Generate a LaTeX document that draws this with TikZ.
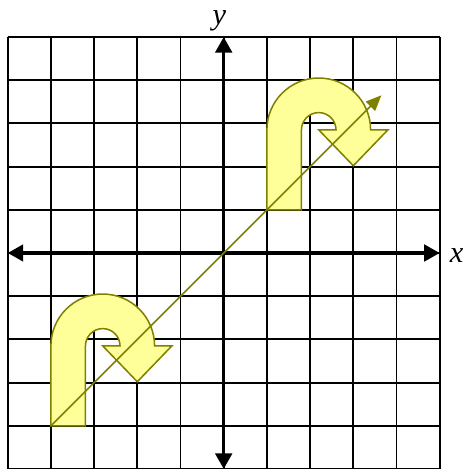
\documentclass[tikz,border=0pt]{standalone}
\usepackage{fontspec}
\setmainfont{Liberation Serif}
\usetikzlibrary{arrows.meta}
\definecolor{olivec}{RGB}{128,128,0}
\definecolor{uyellow}{RGB}{255,255,153}
\tikzset{
  gridline/.style={line width=1.3pt,black},
  axisline/.style={line width=2.3pt,black,{Triangle[length=0.36cm,width=0.38cm]}-{Triangle[length=0.36cm,width=0.38cm]}},
  diagline/.style={line width=1pt,olivec,-{Triangle[length=0.36cm,width=0.3cm]}},
  uturn/.style={line width=1pt,draw=olivec,fill=uyellow,line join=miter},
  axlabel/.style={font=\itshape\fontsize{20}{24}\selectfont,inner sep=0pt,anchor=base}
}
\newcommand{\uturnpath}[2]{%
  \path[uturn] (#1,#2) -- ++(0,1.85) arc[start angle=180,end angle=0,radius=1.2]
    -- ++(0.4,0) -- ++(-0.8,-0.83) -- ++(-0.8,0.83) -- ++(0.4,0)
    arc[start angle=0,end angle=180,radius=0.4] -- ++(0,-1.85) -- cycle;}
\begin{document}
\begin{tikzpicture}[x=1cm,y=1cm]
\useasboundingbox (-5.178,-5) rectangle (5.579,5.856);
\fill[white] (-5.178,-5) rectangle (5.579,5.856);
\draw[gridline] (-5,-5) grid (5,5);
\coordinate (xl) at (-5,0);
\coordinate (xr) at (5,0);
\coordinate (yb) at (0,-5);
\coordinate (yt) at (0,5);
\draw[axisline] (xl) -- (xr);
\draw[axisline] (yb) -- (yt);
\node[axlabel] (xlab) at (5.39,-0.22) {x};
\node[axlabel] (ylab) at (-0.1,5.3) {y};
\uturnpath{-4}{-4}
\uturnpath{1}{1}
\coordinate (d0) at (-4,-4);
\coordinate (d1) at (3.65,3.65);
\draw[diagline] (d0) -- (d1);
\end{tikzpicture}
\end{document}
